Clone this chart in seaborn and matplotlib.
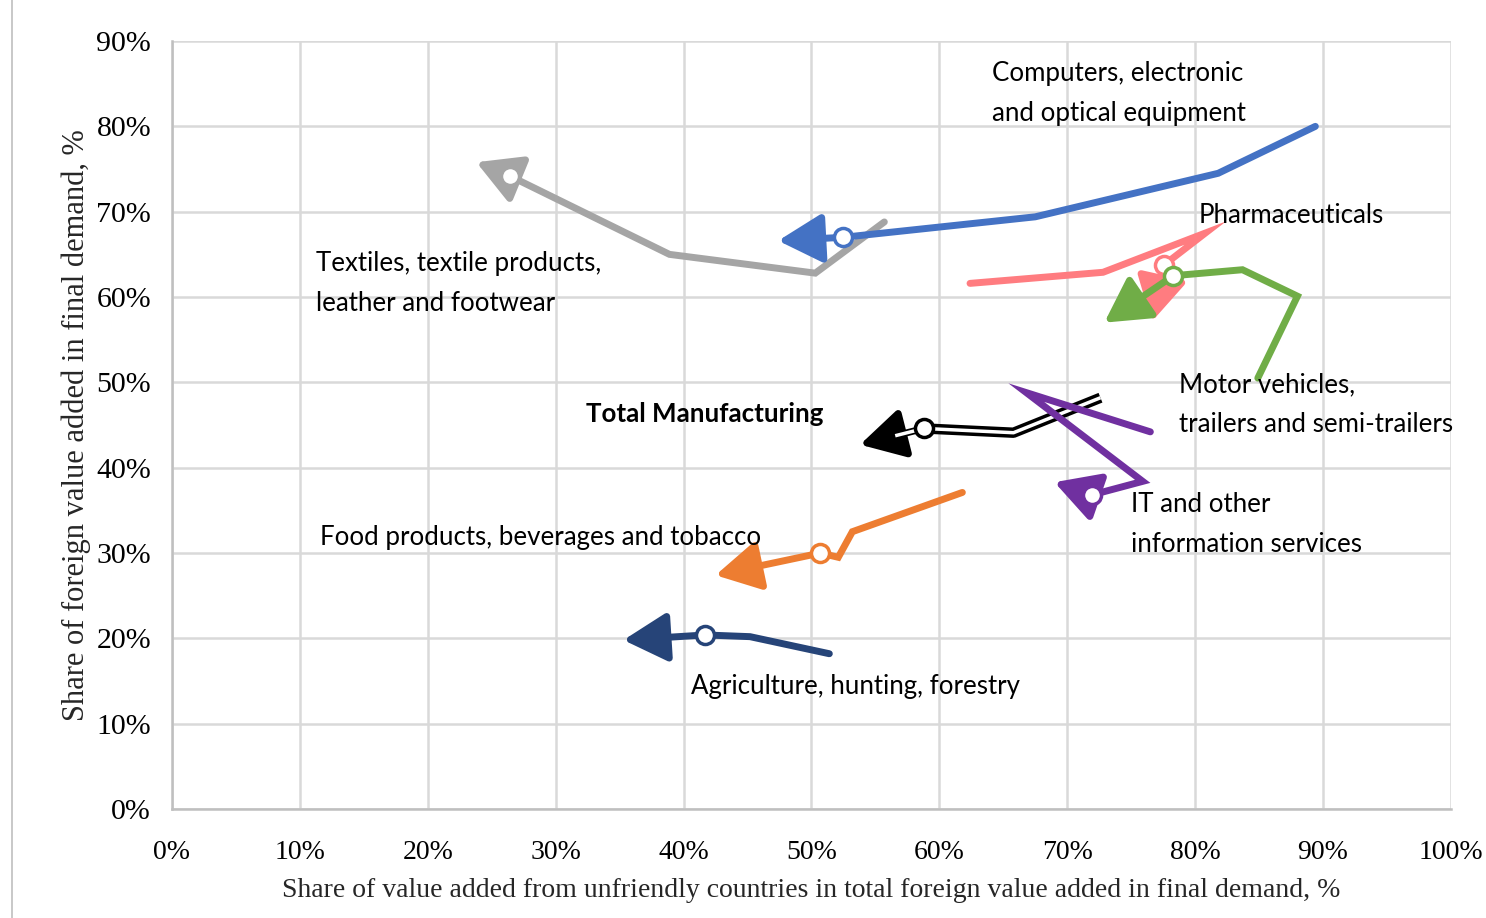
import matplotlib
matplotlib.use("Agg")
import matplotlib.pyplot as plt
import matplotlib.patheffects as pe
import matplotlib.ticker as mticker
import seaborn as sns
import pandas as pd

# each path runs from the oldest point to the newest; the last point is the arrow tip,
# the one before it carries the open circle
computers_x = [89.4, 81.8, 67.5, 52.5, 47.4]
computers_y = [80.0, 74.5, 69.4, 67.0, 66.6]

textiles_x = [55.7, 50.3, 38.9, 26.4, 23.8]
textiles_y = [68.8, 62.8, 65.0, 74.2, 75.8]

pharma_x = [62.4, 72.8, 80.8, 77.6, 76.6]
pharma_y = [61.6, 62.9, 67.5, 63.8, 57.1]

motor_x = [84.9, 88.0, 83.7, 78.3, 72.9]
motor_y = [50.5, 60.1, 63.2, 62.5, 57.0]

total_x = [72.6, 65.8, 58.8, 53.8]
total_y = [48.2, 44.1, 44.6, 42.7]

it_x = [76.5, 66.8, 75.9, 71.9, 69.0]
it_y = [44.2, 48.8, 38.4, 36.8, 38.3]

food_x = [61.8, 53.2, 52.1, 50.7, 42.5]
food_y = [37.1, 32.5, 29.5, 30.0, 27.4]

agri_x = [51.4, 45.2, 41.7, 35.3]
agri_y = [18.2, 20.2, 20.4, 19.8]

series = [
    ("Textiles", textiles_x, textiles_y, "#A5A5A5"),
    ("Computers", computers_x, computers_y, "#4472C4"),
    ("Pharmaceuticals", pharma_x, pharma_y, "#FF7C80"),
    ("Motor", motor_x, motor_y, "#70AD47"),
    ("Total", total_x, total_y, "black"),
    ("IT", it_x, it_y, "#7030A0"),
    ("Food", food_x, food_y, "#ED7D31"),
    ("Agri", agri_x, agri_y, "#264478"),
]

labels = [
    ("Computers, electronic\nand optical equipment", 64.1, 83.8, "normal"),
    ("Pharmaceuticals", 80.3, 69.6, "normal"),
    ("Textiles, textile products,\nleather and footwear", 11.3, 61.6, "normal"),
    ("Motor vehicles,\ntrailers and semi-trailers", 78.7, 47.4, "normal"),
    ("Total Manufacturing", 32.4, 46.3, "bold"),
    ("IT and other\ninformation services", 75.0, 33.3, "normal"),
    ("Food products, beverages and tobacco", 11.6, 31.8, "normal"),
    ("Agriculture, hunting, forestry", 40.6, 14.4, "normal"),
]

sns.set_theme(style="whitegrid")
plt.rcParams["font.family"] = ["Liberation Serif", "DejaVu Serif"]

fig = plt.figure(figsize=(14.86, 9.18), dpi=100)
ax = fig.add_axes([0.1157, 0.1187, 0.8607, 0.8366])

for i, (name, xs, ys, c) in enumerate(series):
    z = 3 + i * 0.1
    df = pd.DataFrame({"x": xs[:-1], "y": ys[:-1]})
    head = dict(arrowstyle="-|>,head_length=0.9,head_width=0.5",
                mutation_scale=30, color=c, shrinkA=0, shrinkB=0)
    if name == "Total":
        # double line: white core with a black outline
        sns.lineplot(data=df, x="x", y="y", sort=False, ax=ax, color="white",
                     lw=2.5, zorder=z, solid_capstyle="butt",
                     path_effects=[pe.Stroke(linewidth=7.5, foreground="black"), pe.Normal()])
        ax.annotate("", xy=(xs[-1], ys[-1]), xytext=(xs[-2], ys[-2]),
                    arrowprops=dict(head, lw=5), zorder=z)
        mx = xs[-2] + 0.45 * (xs[-1] - xs[-2])
        my = ys[-2] + 0.45 * (ys[-1] - ys[-2])
        ax.plot([xs[-2], mx], [ys[-2], my], color="white", lw=2.5, zorder=z + 0.01,
                solid_capstyle="butt")
    else:
        sns.lineplot(data=df, x="x", y="y", sort=False, ax=ax, color=c,
                     lw=5, zorder=z, solid_capstyle="round", solid_joinstyle="miter")
        ax.annotate("", xy=(xs[-1], ys[-1]), xytext=(xs[-2], ys[-2]),
                    arrowprops=dict(head, lw=5), zorder=z)
    ax.plot(xs[-2], ys[-2], marker="o", ms=13, mfc="white", mec=c, mew=2.5,
            zorder=z + 0.05, linestyle="none")

for txt, x, y, w in labels:
    ax.text(x, y, txt, family=["Lato", "DejaVu Sans"], fontsize=18.6, weight=w,
            va="center", ha="left", linespacing=1.75, color="black", zorder=10)

ax.set_xlim(0, 100)
ax.set_ylim(0, 90)
ax.xaxis.set_major_locator(mticker.MultipleLocator(10))
ax.yaxis.set_major_locator(mticker.MultipleLocator(10))
ax.xaxis.set_major_formatter(mticker.FuncFormatter(lambda v, p: f"{v:.0f}%"))
ax.yaxis.set_major_formatter(mticker.FuncFormatter(lambda v, p: f"{v:.0f}%"))
ax.grid(True, color="#D9D9D9", lw=1.8)
for s in ["top", "right"]:
    ax.spines[s].set_visible(False)
for s in ["left", "bottom"]:
    ax.spines[s].set_color("#BFBFBF")
    ax.spines[s].set_linewidth(1.8)
ax.tick_params(axis="both", colors="black", length=0)
ax.tick_params(axis="x", pad=22, labelsize=20)
ax.tick_params(axis="y", pad=15, labelsize=21.5)
ax.set_xlabel("Share of value added from unfriendly countries in total foreign value added in final demand, %",
              fontsize=20, labelpad=10)
ax.set_ylabel("Share of foreign value added in final demand, %", fontsize=22, labelpad=4)

fig.add_artist(plt.Line2D([0.008, 0.008], [0.0, 1.0], color="#BFBFBF", lw=1.2))

fig.savefig("out.png", dpi=100)
